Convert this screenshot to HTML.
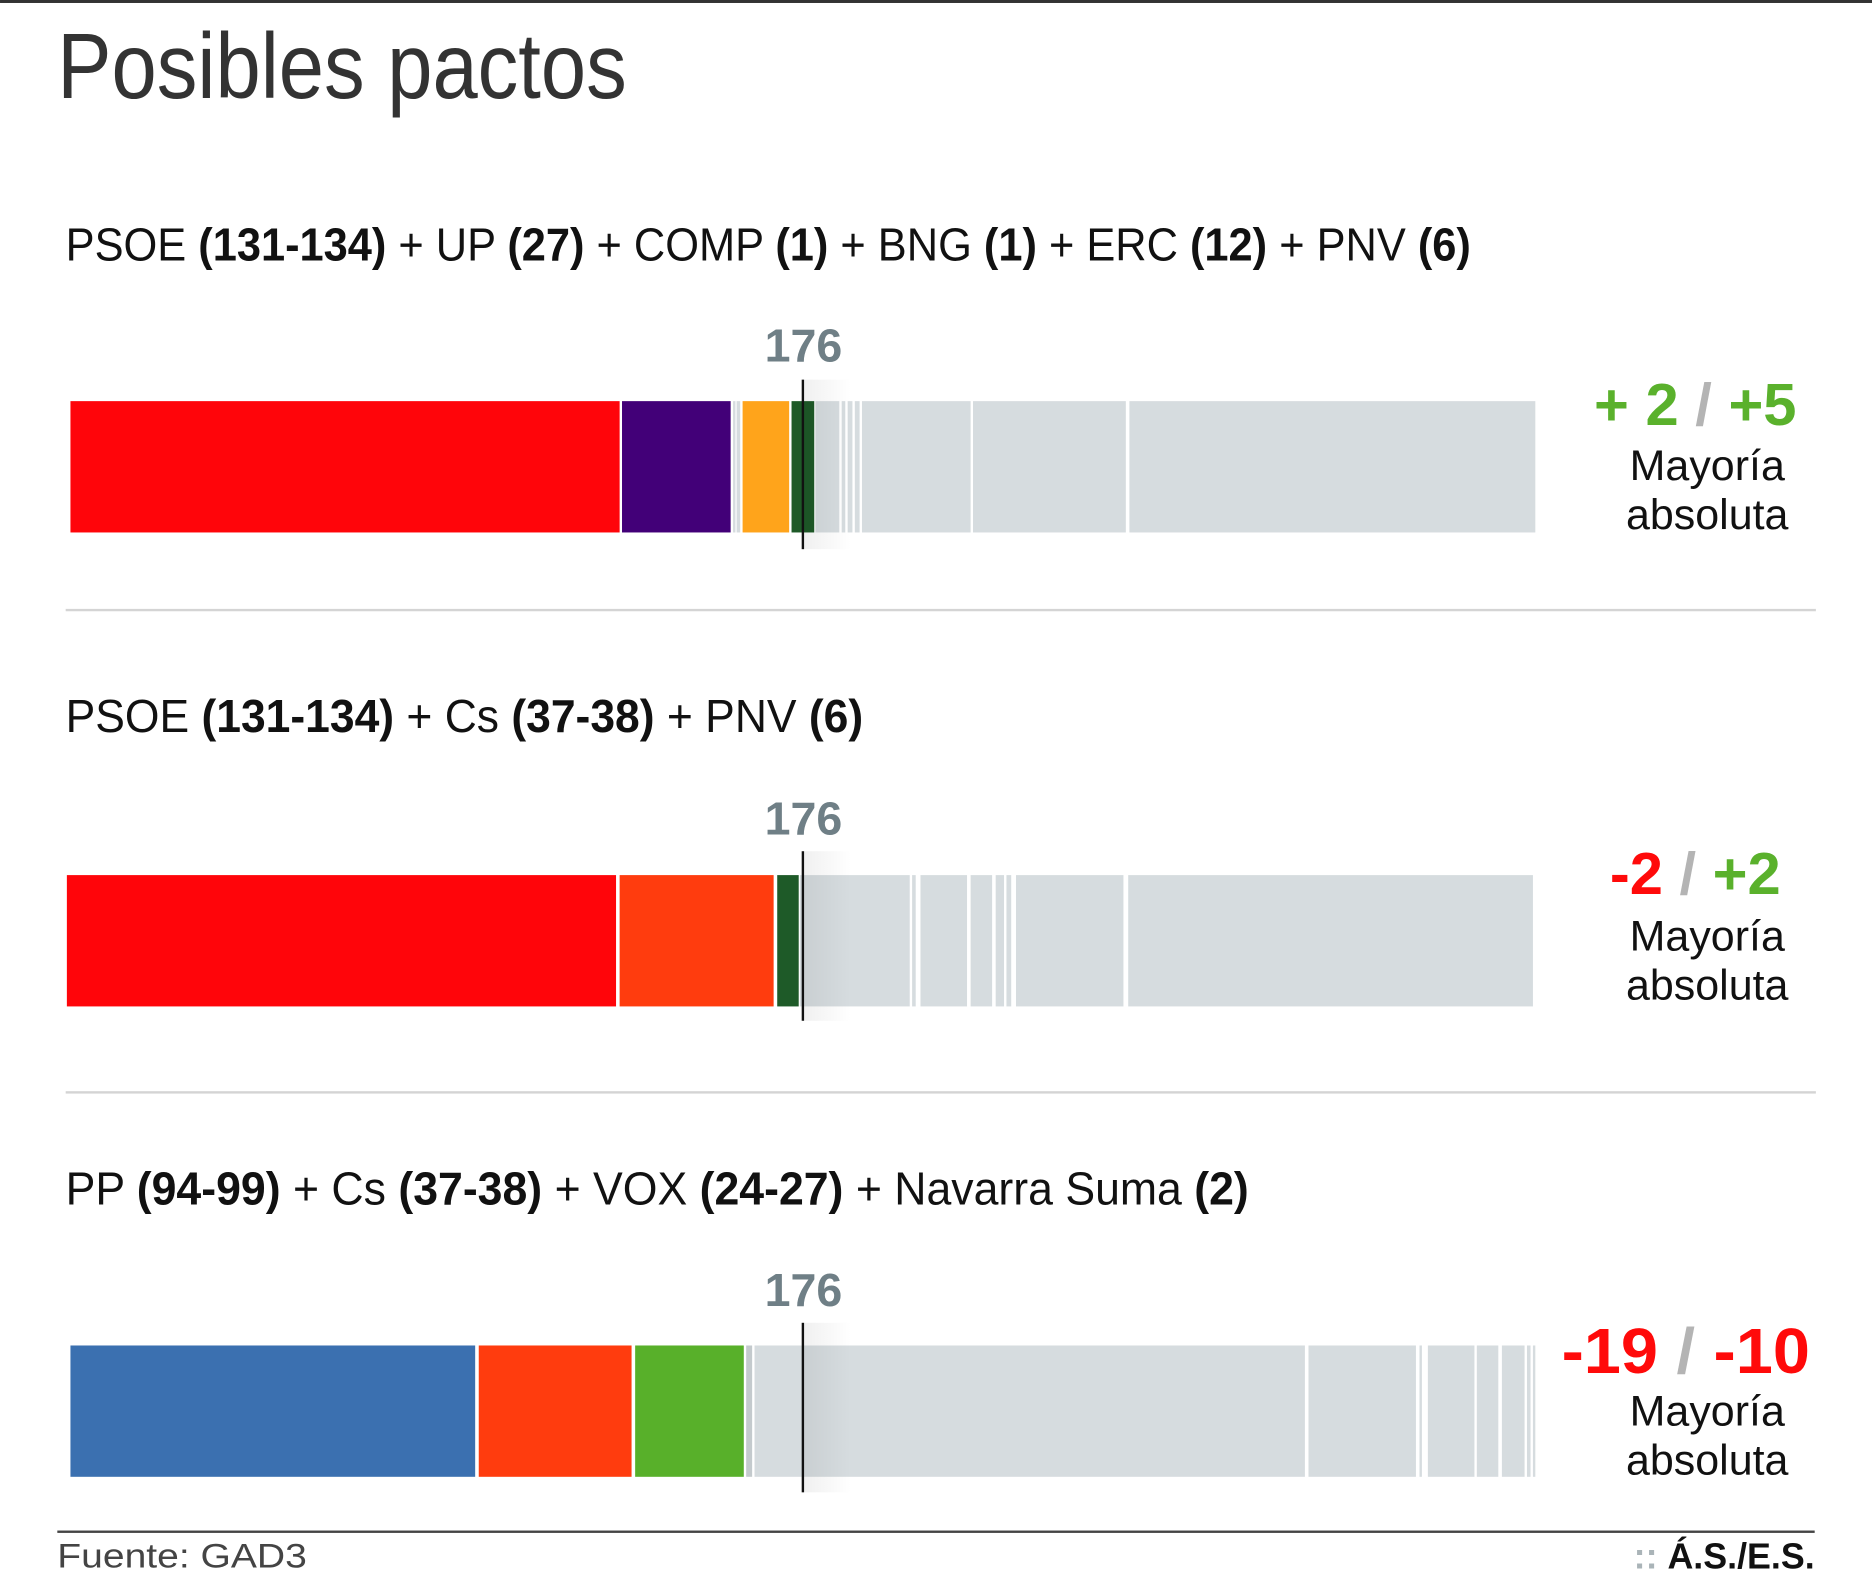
<!DOCTYPE html>
<html><head><meta charset="utf-8"><style>html,body{margin:0;padding:0;background:#fff}svg{display:block}</style></head><body>
<svg width="1872" height="1587" viewBox="0 0 1568 1329.3" xmlns="http://www.w3.org/2000/svg" font-family="'Liberation Sans Narrow','Liberation Sans',sans-serif">
<defs><linearGradient id="g" x1="0" x2="1"><stop offset="0" stop-color="#000" stop-opacity="0.06"/><stop offset="1" stop-color="#000" stop-opacity="0"/></linearGradient></defs>
<rect x="0" y="0" width="1568" height="2.5" fill="#333"/>
<text x="48" y="82" font-family="'Liberation Sans',sans-serif" font-size="78" fill="#333" textLength="477" lengthAdjust="spacingAndGlyphs">Posibles pactos</text>

<g font-size="39" fill="#111">
<text x="55" y="218" textLength="1177" lengthAdjust="spacingAndGlyphs">PSOE <tspan font-weight="bold">(131-134)</tspan> + UP <tspan font-weight="bold">(27)</tspan> + COMP <tspan font-weight="bold">(1)</tspan> + BNG <tspan font-weight="bold">(1)</tspan> + ERC <tspan font-weight="bold">(12)</tspan> + PNV <tspan font-weight="bold">(6)</tspan></text>
<text x="55" y="613" textLength="668" lengthAdjust="spacingAndGlyphs">PSOE <tspan font-weight="bold">(131-134)</tspan> + Cs <tspan font-weight="bold">(37-38)</tspan> + PNV <tspan font-weight="bold">(6)</tspan></text>
<text x="55" y="1009" textLength="991" lengthAdjust="spacingAndGlyphs">PP <tspan font-weight="bold">(94-99)</tspan> + Cs <tspan font-weight="bold">(37-38)</tspan> + VOX <tspan font-weight="bold">(24-27)</tspan> + Navarra Suma <tspan font-weight="bold">(2)</tspan></text>
</g>

<g font-size="39" font-weight="bold" fill="#6f7f86" text-anchor="middle">
<text x="673" y="303">176</text><text x="673" y="699">176</text><text x="673" y="1094">176</text>
</g>

<g>
<rect x="59" y="336" width="460" height="110" fill="#ff050a"/>
<rect x="521" y="336" width="91" height="110" fill="#420078"/>
<rect x="614" y="336" width="2" height="110" fill="#d6dcdf"/>
<rect x="617" y="336" width="3" height="110" fill="#d6dcdf"/>
<rect x="622" y="336" width="39" height="110" fill="#ffa41b"/>
<rect x="663" y="336" width="19" height="110" fill="#1e5a28"/>
<rect x="683" y="336" width="20" height="110" fill="#d6dcdf"/>
<rect x="705" y="336" width="3" height="110" fill="#d6dcdf"/>
<rect x="710" y="336" width="4" height="110" fill="#d6dcdf"/>
<rect x="716" y="336" width="4" height="110" fill="#d6dcdf"/>
<rect x="722" y="336" width="91" height="110" fill="#d6dcdf"/>
<rect x="815" y="336" width="128" height="110" fill="#d6dcdf"/>
<rect x="946" y="336" width="340" height="110" fill="#d6dcdf"/>
<rect x="673" y="318" width="40" height="142" fill="url(#g)"/>
<rect x="671.5" y="318" width="2" height="142" fill="#111"/>
</g>
<g>
<rect x="56" y="733" width="460" height="110" fill="#ff050a"/>
<rect x="519" y="733" width="129" height="110" fill="#ff3c0e"/>
<rect x="651" y="733" width="18" height="110" fill="#1e5a28"/>
<rect x="670" y="733" width="92" height="110" fill="#d6dcdf"/>
<rect x="764" y="733" width="3" height="110" fill="#d6dcdf"/>
<rect x="771" y="733" width="39" height="110" fill="#d6dcdf"/>
<rect x="813" y="733" width="18" height="110" fill="#d6dcdf"/>
<rect x="834" y="733" width="7" height="110" fill="#d6dcdf"/>
<rect x="843" y="733" width="4" height="110" fill="#d6dcdf"/>
<rect x="851" y="733" width="90" height="110" fill="#d6dcdf"/>
<rect x="945" y="733" width="339" height="110" fill="#d6dcdf"/>
<rect x="673" y="713" width="40" height="142" fill="url(#g)"/>
<rect x="671.5" y="713" width="2" height="142" fill="#111"/>
</g>
<g>
<rect x="59" y="1127" width="339" height="110" fill="#3b70b0"/>
<rect x="401" y="1127" width="128" height="110" fill="#ff3c0e"/>
<rect x="532" y="1127" width="91" height="110" fill="#58b02a"/>
<rect x="625" y="1127" width="5" height="110" fill="#c4cacd"/>
<rect x="632" y="1127" width="461" height="110" fill="#d6dcdf"/>
<rect x="1096" y="1127" width="90" height="110" fill="#d6dcdf"/>
<rect x="1189" y="1127" width="2" height="110" fill="#d6dcdf"/>
<rect x="1196" y="1127" width="39" height="110" fill="#d6dcdf"/>
<rect x="1237" y="1127" width="18" height="110" fill="#d6dcdf"/>
<rect x="1258" y="1127" width="19" height="110" fill="#d6dcdf"/>
<rect x="1279" y="1127" width="3" height="110" fill="#d6dcdf"/>
<rect x="1284" y="1127" width="2" height="110" fill="#d6dcdf"/>
<rect x="673" y="1108" width="40" height="142" fill="url(#g)"/>
<rect x="671.5" y="1108" width="2" height="142" fill="#111"/>
</g>

<g font-weight="bold" text-anchor="middle">
<text x="1420" y="356" font-size="50"><tspan fill="#5ab12c">+ 2 </tspan><tspan fill="#b4b4b4">/</tspan><tspan fill="#5ab12c"> +5</tspan></text>
<text x="1420" y="749" font-size="50"><tspan fill="#ff0a0a">-2 </tspan><tspan fill="#b4b4b4">/</tspan><tspan fill="#5ab12c"> +2</tspan></text>
<text x="1412" y="1150" font-size="54" textLength="208" lengthAdjust="spacingAndGlyphs"><tspan fill="#ff0a0a">-19 </tspan><tspan fill="#b4b4b4">/</tspan><tspan fill="#ff0a0a"> -10</tspan></text>
</g>
<g font-size="36" fill="#111" text-anchor="middle">
<text x="1430" y="402">Mayoría</text><text x="1430" y="443">absoluta</text>
<text x="1430" y="796">Mayoría</text><text x="1430" y="837">absoluta</text>
<text x="1430" y="1194">Mayoría</text><text x="1430" y="1235">absoluta</text>
</g>

<rect x="55" y="510" width="1466" height="2" fill="#d4d4d4"/>
<rect x="55" y="914" width="1466" height="2" fill="#d4d4d4"/>
<rect x="48" y="1282" width="1472" height="2" fill="#444"/>
<text x="48" y="1313" font-size="29" fill="#444" font-family="'Liberation Sans',sans-serif" textLength="209" lengthAdjust="spacingAndGlyphs">Fuente: GAD3</text>
<text x="1520" y="1314" font-size="30" font-weight="bold" fill="#111" text-anchor="end"><tspan fill="#aab4b8">:: </tspan>Á.S./E.S.</text>
</svg>
</body></html>
